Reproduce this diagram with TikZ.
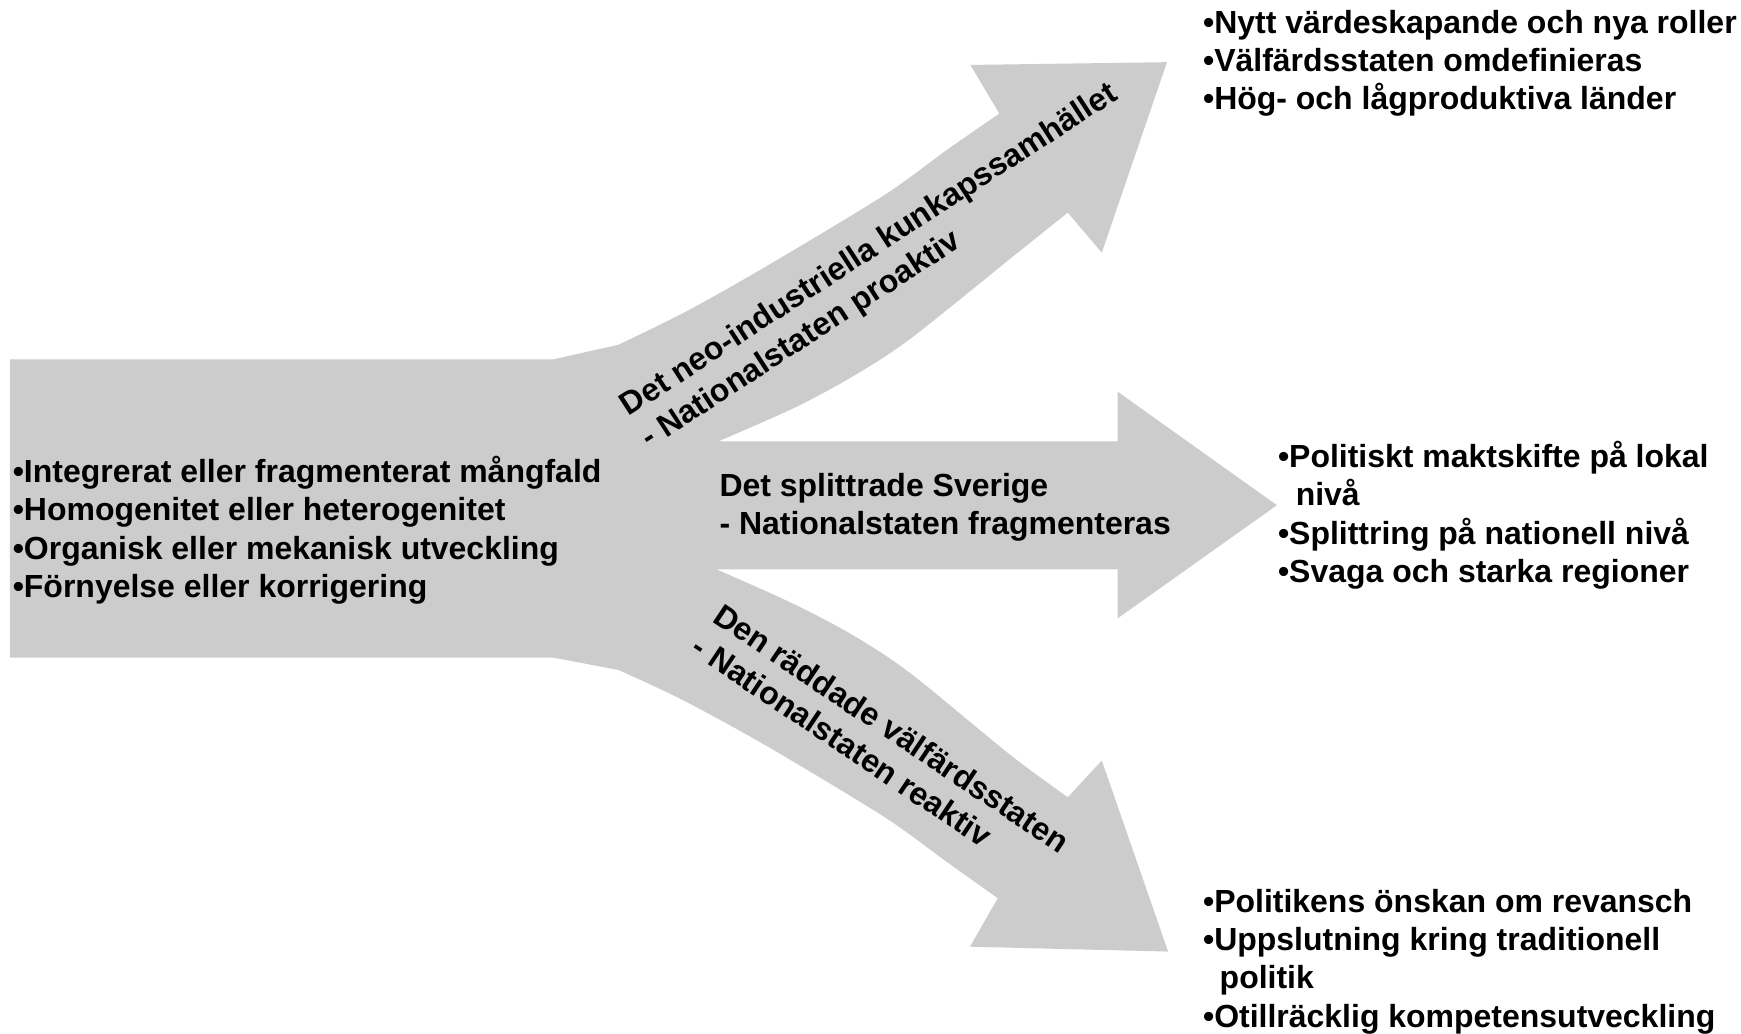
\documentclass[tikz,border=0pt]{standalone}
\usepackage{fontspec}
\setmainfont{Liberation Sans}
\definecolor{arrowgray}{RGB}{204,204,204}
\begin{document}
\begin{tikzpicture}[x=1pt,y=-1pt,
  lbl/.style={font=\fontsize{28.8}{34.4}\selectfont\bfseries, inner sep=0pt, outer sep=0pt, align=left, text=black}]
\useasboundingbox (0,0) rectangle (1568,931);
\fill[white] (0,0) rectangle (1568,931);
% arrows
\fill[arrowgray] (8.8,323.6) -- (498.6,323.6)
  -- plot[smooth,tension=0.5] coordinates {(557,310.5) (619,280) (691.6,239) (796,176) (852,135.6) (900,102.3)}
  -- (874,58.5) -- (1051,56) -- (992.3,227.5)
  -- plot[smooth,tension=0.5] coordinates {(961.7,191.5) (916,228) (820,305) (768,339) (716,367) (647,397.5)}
  -- (1006.6,397.5) -- (1006.6,352.8) -- (1150,455) -- (1006.6,556.9) -- (1006.6,512.8)
  -- plot[smooth,tension=0.5] coordinates {(645.3,512.8) (713.7,543.4) (768,572) (820,606.4) (910,680) (961.7,718)}
  -- (992.3,685) -- (1052,857) -- (873.6,852.6)
  -- plot[smooth,tension=0.5] coordinates {(898.6,809) (852.4,776) (796,735.5) (691.6,672.5) (615,630.5) (557,603.4)}
  -- (498.6,592.3) -- (8.8,592.3) -- cycle;
% texts
\node[lbl, anchor=north west] (left) at (11.5,411) {•Integrerat eller fragmenterat mångfald\\•Homogenitet eller heterogenitet\\•Organisk eller mekanisk utveckling\\•Förnyelse eller korrigering};
\node[lbl, anchor=north west] (topr) at (1083.5,9) {•Nytt värdeskapande och nya roller\\•Välfärdsstaten omdefinieras\\•Hög- och lågproduktiva länder};
\node[lbl, anchor=north west] (midr) at (1151,397.5) {•Politiskt maktskifte på lokal\\\hspace*{16pt}nivå\\•Splittring på nationell nivå\\•Svaga och starka regioner};
\node[lbl, anchor=north west] (botr) at (1083.5,801) {•Politikens önskan om revansch\\•Uppslutning kring traditionell\\\hspace*{15pt}politik\\•Otillräcklig kompetensutveckling};
\node[lbl, anchor=north west] (split) at (648,426.5) {Det splittrade Sverige\\- Nationalstaten fragmenteras};
\node[lbl, anchor=north west, rotate=33] (neo) at (555,358) {Det neo-industriella kunkapssamhället\\- Nationalstaten proaktiv};
\node[lbl, anchor=north west, rotate=-33.8] (rad) at (652,542) {Den räddade välfärdsstaten\\- Nationalstaten reaktiv};
\end{tikzpicture}
\end{document}
